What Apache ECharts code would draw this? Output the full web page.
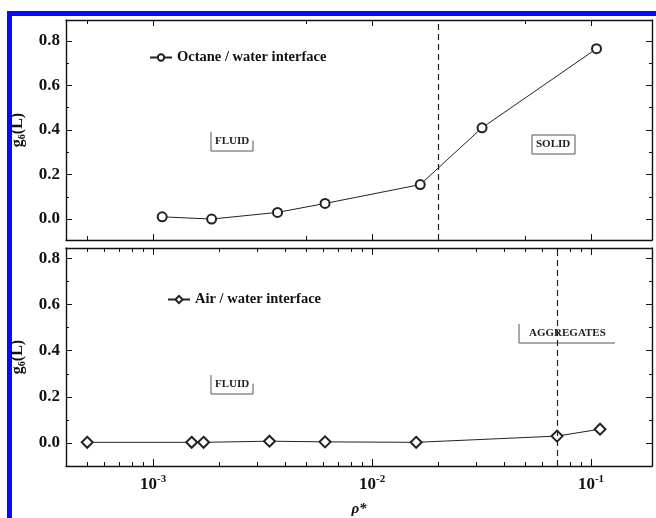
<!DOCTYPE html>
<html>
<head>
<meta charset="utf-8">
<script src="https://cdn.jsdelivr.net/npm/echarts@6/dist/echarts.min.js"></script>
<style>
  html, body { margin: 0; padding: 0; background: #ffffff; }
  #chart { width: 656px; height: 518px; }
</style>
</head>
<body>
<div id="chart"></div>
<script>
// Bond-orientational order g6(L) versus reduced density rho*
const octaneRho = [0.0011, 0.00185, 0.0037, 0.0061, 0.0166, 0.0318, 0.106];
const octaneG6  = [0.010, 0.000, 0.030, 0.070, 0.155, 0.410, 0.765];
const airRho    = [0.0005, 0.0015, 0.0017, 0.0034, 0.0061, 0.0159, 0.070, 0.110];
const airG6     = [0.003, 0.003, 0.003, 0.008, 0.005, 0.003, 0.030, 0.060];

// Phase boundaries (dashed lines)
const octaneBoundary = 0.0188;
const airBoundary = 0.0664;

// Tick values
const decadeTicks = [0.001, 0.01, 0.1];
const yMajorTicks = [0, 0.2, 0.4, 0.6, 0.8];
const yMinorTicks = [0.1, 0.3, 0.5, 0.7];
const topMinorMultipliers = [5];
const bottomMinorMultipliers = [2, 3, 4, 5, 6, 7, 8, 9];

const X_MIN = 0.0004, X_MAX = 0.19;
const SERIF = '"Liberation Serif", "Times New Roman", serif';
const INK = '#111111';

function minorValues(mults) {
  const out = [];
  [0.0001, 0.001, 0.01, 0.1].forEach(d => {
    mults.forEach(m => {
      const v = Number((m * d).toPrecision(3));
      if (v >= X_MIN && v <= X_MAX) out.push(v);
    });
  });
  return out;
}

function expLabel(v) {
  const e = Math.round(Math.log10(v));
  return '{b|10}{s|' + e + '}';
}

function xAxis(grid, position, ticks, len, opts) {
  opts = opts || {};
  return {
    type: 'log', logBase: 10, gridIndex: grid, position: position,
    min: X_MIN, max: X_MAX,
    axisLine: { show: !!opts.line, onZero: false, lineStyle: { color: INK, width: 1.4 } },
    axisTick: { show: true, inside: true, length: len, customValues: ticks,
                lineStyle: { color: INK, width: 1 } },
    axisLabel: opts.labels ? {
      show: true, customValues: decadeTicks, margin: 8,
      formatter: expLabel,
      rich: {
        b: { fontFamily: SERIF, fontWeight: 'bold', fontSize: 17, color: INK },
        s: { fontFamily: SERIF, fontWeight: 'bold', fontSize: 11, color: INK, padding: [0, 0, 10, 0] }
      }
    } : { show: false },
    name: opts.name || '',
    nameLocation: 'middle', nameGap: 36,
    nameTextStyle: { fontFamily: SERIF, fontStyle: 'italic', fontWeight: 'bold', fontSize: 15, color: INK },
    splitLine: { show: false }
  };
}

function yAxis(grid, position, min, max, ticks, len, opts) {
  opts = opts || {};
  return {
    type: 'value', gridIndex: grid, position: position, min: min, max: max,
    axisLine: { show: !!opts.line, onZero: false, lineStyle: { color: INK, width: 1.4 } },
    axisTick: { show: true, inside: true, length: len, customValues: ticks,
                lineStyle: { color: INK, width: 1 } },
    axisLabel: opts.labels ? {
      show: true, customValues: yMajorTicks, margin: 6,
      formatter: v => v.toFixed(1),
      fontFamily: SERIF, fontWeight: 'bold', fontSize: 17, color: INK
    } : { show: false },
    name: opts.name ? '{g|g}{s|6}{g|(L)}' : '',
    nameLocation: 'middle', nameGap: 26,
    nameTextStyle: {
      rich: {
        g: { fontFamily: SERIF, fontWeight: 'bold', fontSize: 16, color: INK },
        s: { fontFamily: SERIF, fontWeight: 'bold', fontSize: 10, color: INK, padding: [10, 0, 0, 0] }
      }
    },
    splitLine: { show: false }
  };
}

const topMinor = minorValues(topMinorMultipliers);
const bottomMinor = minorValues(bottomMinorMultipliers);

function boundaryLine(x) {
  return {
    silent: true, symbol: 'none', label: { show: false },
    lineStyle: { type: [6, 4], color: '#222', width: 1.2 },
    data: [{ xAxis: x }]
  };
}

function tag(text, x, y, sides, w, h, pad) {
  const els = [{
    type: 'text', left: x + (pad || 4), top: y + 4,
    style: { text: text, fontFamily: SERIF, fontWeight: 'bold', fontSize: 11, fill: '#222' }
  }];
  const stroke = { stroke: '#555', lineWidth: 1 };
  if (sides.indexOf('l') >= 0) els.push({ type: 'line', shape: { x1: x, y1: y, x2: x, y2: y + h }, style: stroke });
  if (sides.indexOf('b') >= 0) els.push({ type: 'line', shape: { x1: x, y1: y + h, x2: x + w, y2: y + h }, style: stroke });
  if (sides.indexOf('r') >= 0) els.push({ type: 'line', shape: { x1: x + w, y1: y + h * 0.45, x2: x + w, y2: y + h }, style: stroke });
  if (sides.indexOf('t') >= 0) els.push({ type: 'line', shape: { x1: x, y1: y, x2: x + w, y2: y }, style: stroke });
  if (sides.indexOf('R') >= 0) els.push({ type: 'line', shape: { x1: x + w, y1: y, x2: x + w, y2: y + h }, style: stroke });
  return els;
}

const chart = echarts.init(document.getElementById('chart'), null, { renderer: 'canvas' });

const TOP_Y = [-0.094, 0.894];
const BOT_Y = [-0.0995, 0.8446];

chart.setOption({
  backgroundColor: '#ffffff',
  animation: false,
  grid: [
    { left: 66, right: 4, top: 20, height: 220 },
    { left: 66, right: 4, top: 248, height: 234 }
  ],
  xAxis: [
    // upper panel
    xAxis(0, 'bottom', topMinor, 4, { line: true }),
    xAxis(0, 'bottom', decadeTicks, 6),
    xAxis(0, 'top', topMinor, 4, { line: true }),
    xAxis(0, 'top', decadeTicks, 6),
    // lower panel
    xAxis(1, 'bottom', bottomMinor, 4, { line: true, labels: true, name: 'ρ*' }),
    xAxis(1, 'bottom', decadeTicks, 7),
    xAxis(1, 'top', bottomMinor, 4, { line: true }),
    xAxis(1, 'top', decadeTicks, 7)
  ],
  yAxis: [
    yAxis(0, 'left', TOP_Y[0], TOP_Y[1], yMajorTicks, 6, { line: true, labels: true, name: true }),
    yAxis(0, 'left', TOP_Y[0], TOP_Y[1], yMinorTicks, 3),
    yAxis(0, 'right', TOP_Y[0], TOP_Y[1], yMajorTicks, 6, { line: true }),
    yAxis(0, 'right', TOP_Y[0], TOP_Y[1], yMinorTicks, 3),
    yAxis(1, 'left', BOT_Y[0], BOT_Y[1], yMajorTicks, 6, { line: true, labels: true, name: true }),
    yAxis(1, 'left', BOT_Y[0], BOT_Y[1], yMinorTicks, 3),
    yAxis(1, 'right', BOT_Y[0], BOT_Y[1], yMajorTicks, 6, { line: true }),
    yAxis(1, 'right', BOT_Y[0], BOT_Y[1], yMinorTicks, 3)
  ],
  legend: [
    {
      data: ['Octane / water interface'], left: 144, top: 45,
      itemWidth: 22, itemHeight: 8, itemGap: 4,
      textStyle: { fontFamily: SERIF, fontWeight: 'bold', fontSize: 14.5, color: INK }
    },
    {
      data: ['Air / water interface'], left: 162, top: 287,
      itemWidth: 22, itemHeight: 9, itemGap: 4,
      textStyle: { fontFamily: SERIF, fontWeight: 'bold', fontSize: 14.5, color: INK }
    }
  ],
  series: [
    {
      name: 'Octane / water interface', type: 'line',
      xAxisIndex: 0, yAxisIndex: 0,
      data: octaneRho.map((r, i) => [r, octaneG6[i]]),
      symbol: 'emptyCircle', symbolSize: 9,
      itemStyle: { color: '#222', borderWidth: 1 },
      lineStyle: { color: '#222', width: 1 },
      markLine: boundaryLine(octaneBoundary)
    },
    {
      name: 'Air / water interface', type: 'line',
      xAxisIndex: 4, yAxisIndex: 4,
      data: airRho.map((r, i) => [r, airG6[i]]),
      symbol: 'emptyDiamond', symbolSize: 11,
      itemStyle: { color: '#222', borderWidth: 1 },
      lineStyle: { color: '#222', width: 1 },
      markLine: boundaryLine(airBoundary)
    }
  ],
  graphic: [
    // blue frame
    { type: 'rect', shape: { x: 7, y: 11, width: 5, height: 507 }, style: { fill: '#0a0aff' } },
    { type: 'rect', shape: { x: 7, y: 11, width: 649, height: 5 }, style: { fill: '#0a0aff' } }
  ]
  .concat(tag('FLUID', 211, 132, 'lbr', 42, 19))
  .concat(tag('SOLID', 532, 135, 'ltbR', 43, 19))
  .concat(tag('FLUID', 211, 375, 'lbr', 42, 19))
  .concat(tag('AGGREGATES', 519, 324, 'lb', 96, 19, 10))
});
</script>
</body>
</html>
